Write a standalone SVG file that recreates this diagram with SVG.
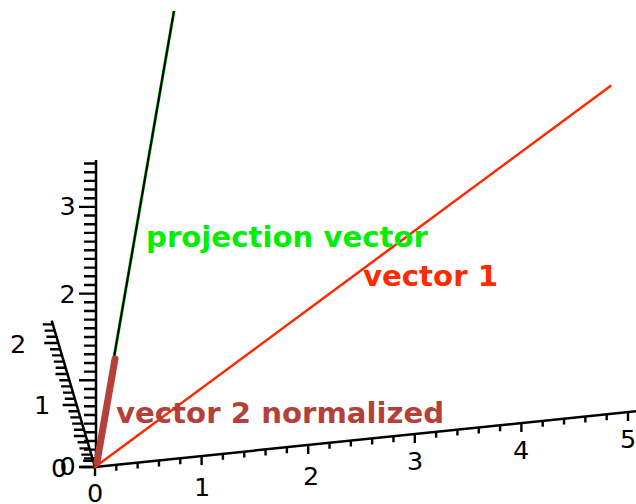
<svg xmlns="http://www.w3.org/2000/svg" width="636" height="504" viewBox="0 0 636 504">
<style>
.ax{stroke:#000;stroke-width:2.5;fill:none}
.tk{stroke:#000;stroke-width:2.4;fill:none}
.num{font-family:"DejaVu Sans",sans-serif;font-size:25.5px;fill:#000;text-anchor:middle}
.lbl{font-family:"DejaVu Sans",sans-serif;font-weight:bold;font-size:29.2px}
</style>
<rect width="636" height="504" fill="#fff"/>
<g id="axis-vertical">
<line class="ax" x1="96" y1="468" x2="96" y2="160"/>
<path class="tk" d="M79 467H96M84 458.33H96M84 449.66H96M84 440.99H96M84 432.32H96M84 423.65H96M84 414.98H96M84 406.31H96M84 397.64H96M84 388.97H96M79 380.3H96M84 371.63H96M84 362.96H96M84 354.29H96M84 345.62H96M84 336.95H96M84 328.28H96M84 319.61H96M84 310.94H96M84 302.27H96M79 293.6H96M84 284.93H96M84 276.26H96M84 267.59H96M84 258.92H96M84 250.25H96M84 241.58H96M84 232.91H96M84 224.24H96M84 215.57H96M79 206.9H96M84 198.23H96M84 189.56H96M84 180.89H96M84 172.22H96M84 163.55H96"/>
<text class="num" x="67.5" y="475">0</text>
<text class="num" x="67.5" y="302.5">2</text>
<text class="num" x="67.5" y="214.5">3</text>
</g>
<g id="axis-slanted">
<line class="ax" x1="95" y1="467" x2="51.7" y2="320.7"/>
<path class="tk" d="M81 467H95M83.17 460.8H93.17M81.33 454.6H91.33M79.5 448.4H89.5M77.66 442.2H87.66M73.83 436H85.83M73.99 429.8H83.99M72.16 423.6H82.16M70.32 417.4H80.32M68.49 411.2H78.49M62.65 405H76.65M64.82 398.8H74.82M62.98 392.6H72.98M61.15 386.4H71.15M59.31 380.2H69.31M55.48 374H67.48M55.64 367.8H65.64M53.81 361.6H63.81M51.97 355.4H61.97M50.14 349.2H60.14M44.3 343H58.3M46.47 336.8H56.47M44.63 330.6H54.63M42.8 324.4H52.8"/>
<text class="num" x="59" y="477">0</text>
<text class="num" x="42" y="413.5">1</text>
<text class="num" x="18" y="352.5">2</text>
</g>
<g id="axis-x">
<line class="ax" x1="95" y1="467" x2="640" y2="410.8"/>
<path class="tk" d="M95 467v9M116.32 464.8v6M137.64 462.6v6M158.96 460.4v6M180.28 458.2v6M201.6 456v9M222.92 453.8v6M244.24 451.6v6M265.56 449.4v6M286.88 447.2v6M308.2 445v9M329.52 442.8v6M350.84 440.6v6M372.16 438.4v6M393.48 436.2v6M414.8 434v9M436.12 431.8v6M457.44 429.6v6M478.76 427.4v6M500.08 425.2v6M521.4 423v9M542.72 420.8v6M564.04 418.6v6M585.36 416.4v6M606.68 414.2v6M628 412v9"/>
<text class="num" x="95" y="502">0</text>
<text class="num" x="202" y="496">1</text>
<text class="num" x="311" y="485">2</text>
<text class="num" x="415" y="470">3</text>
<text class="num" x="521" y="459">4</text>
<text class="num" x="628" y="448">5</text>
</g>
<g id="connectors">
<line x1="95" y1="467" x2="174" y2="11" stroke="#00cc00" stroke-width="3"/>
<line x1="95" y1="467" x2="174" y2="11" stroke="#000" stroke-width="2"/>
<line x1="95" y1="467" x2="610.5" y2="86" stroke="#ff2a00" stroke-width="2.5" stroke-linecap="round"/>
<line x1="97" y1="462" x2="115" y2="359" stroke="#b5403a" stroke-width="7" stroke-linecap="round"/>
</g>
<g id="label-projection">
<text class="lbl" x="146" y="247" fill="#00ee00">projection vector</text>
</g>
<g id="label-vector1">
<text class="lbl" x="363" y="286" fill="#ff2a00">vector 1</text>
</g>
<g id="label-vector2">
<text class="lbl" x="116" y="423" fill="#b5403a">vector 2 normalized</text>
</g>
</svg>
